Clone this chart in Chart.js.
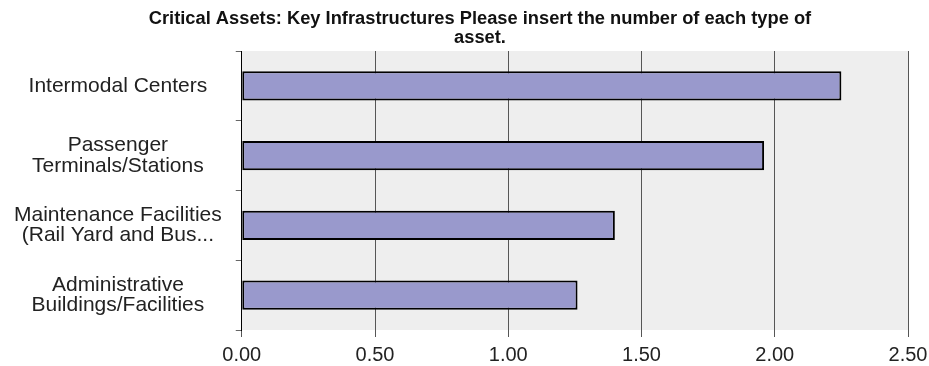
<!DOCTYPE html>
<html>
<head>
<meta charset="utf-8">
<script src="https://cdn.jsdelivr.net/npm/chart.js@4/dist/chart.umd.min.js"></script>
<style>
  html, body { margin: 0; padding: 0; background: #fff; }
  #wrap { width: 929px; height: 366px; }
</style>
</head>
<body>
<div id="wrap"><canvas id="myChart" width="929" height="366"></canvas></div>
<script>
var tituloLinhas = [
  'Critical Assets: Key Infrastructures Please insert the number of each type of',
  'asset.'
];
var categorias = [
  ['Intermodal Centers'],
  ['Passenger', 'Terminals/Stations'],
  ['Maintenance Facilities', '(Rail Yard and Bus...'],
  ['Administrative', 'Buildings/Facilities']
];
var valores = [2.25, 1.96, 1.40, 1.26];
var escalaMin = 0;
var escalaMax = 2.5;
var escalaPasso = 0.5;

// fundo cinza da area do grafico + titulo desenhado a mao
var fundoPlugin = {
  id: 'fundo',
  beforeDraw: function (chart) {
    var a = chart.chartArea;
    var ctx = chart.ctx;
    ctx.save();
    ctx.fillStyle = '#eeeeee';
    ctx.fillRect(a.left, a.top, a.right - a.left, a.bottom - a.top);
    ctx.restore();
  },
  afterDraw: function (chart) {
    var ctx = chart.ctx;
    ctx.save();
    ctx.fillStyle = '#111';
    ctx.font = 'bold 18.3px "Liberation Sans", Arial, sans-serif';
    ctx.textAlign = 'center';
    ctx.textBaseline = 'middle';
    ctx.fillText(tituloLinhas[0], 480, 19);
    ctx.fillText(tituloLinhas[1], 480, 38);
    ctx.restore();
  }
};

var ctx = document.getElementById('myChart');
var chart = new Chart(ctx, {
  type: 'bar',
  data: {
    labels: categorias,
    datasets: [{
      label: 'Assets',
      data: valores,
      backgroundColor: '#9999cc',
      borderColor: '#000',
      borderWidth: 2,
      borderSkipped: false,
      categoryPercentage: 1,
      barPercentage: 0.42
    }]
  },
  options: {
    indexAxis: 'y',
    responsive: false,
    animation: false,
    layout: { padding: { top: 51, left: 0, right: 0, bottom: 0 } },
    plugins: {
      legend: { display: false },
      title: { display: false },
      tooltip: { enabled: false }
    },
    scales: {
      x: {
        min: escalaMin,
        max: escalaMax,
        afterFit: function (s) { s.height = 36; s.paddingRight = 21; },
        ticks: {
          stepSize: escalaPasso,
          color: '#222',
          padding: 7,
          font: { family: '"Liberation Sans", Arial, sans-serif', size: 20, lineHeight: 1.1 },
          callback: function (v) { return v.toFixed(2); }
        },
        grid: { color: '#555', lineWidth: 1, tickLength: 7 },
        border: { display: false }
      },
      y: {
        ticks: {
          color: '#222',
          padding: 14,
          crossAlign: 'center',
          font: { family: '"Liberation Sans", Arial, sans-serif', size: 21, lineHeight: 0.96 }
        },
        grid: { drawOnChartArea: false, drawTicks: true, tickLength: 6, color: '#666' },
        border: { display: true, color: '#000', width: 1 }
      }
    }
  },
  plugins: [fundoPlugin]
});
</script>
</body>
</html>
